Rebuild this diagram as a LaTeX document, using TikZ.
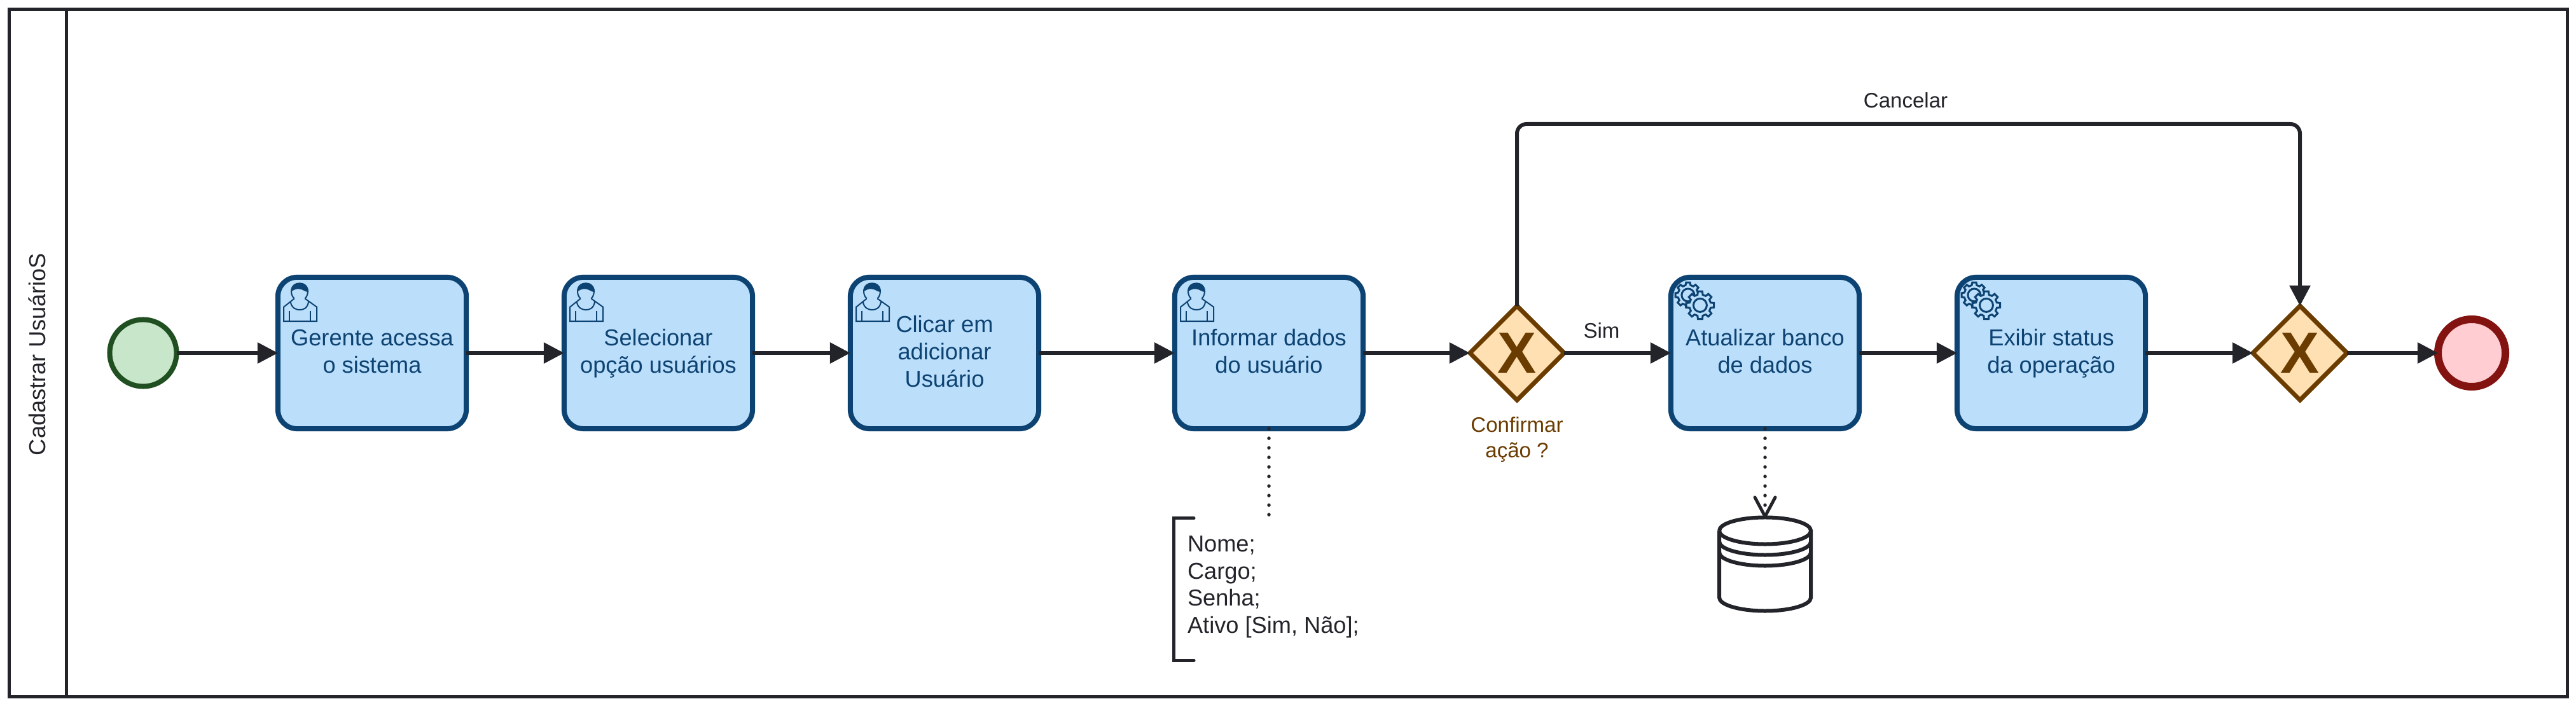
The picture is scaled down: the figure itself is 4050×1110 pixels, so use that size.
\documentclass[tikz,border=0pt]{standalone}
\usepackage{fontspec}
\setmainfont{Liberation Sans}
\usetikzlibrary{calc,arrows.meta,shapes.geometric}
\definecolor{linecolor}{HTML}{22242A}
\definecolor{taskfill}{HTML}{BBDEFB}
\definecolor{taskline}{HTML}{0D4372}
\definecolor{startfill}{HTML}{C8E6C9}
\definecolor{startline}{HTML}{205022}
\definecolor{endfill}{HTML}{FFCDD2}
\definecolor{endline}{HTML}{831311}
\definecolor{gatefill}{HTML}{FFE0B2}
\definecolor{gateline}{HTML}{6B3C00}
\tikzset{
	every node/.style={outer sep=0pt, inner sep=0pt},
	textnormal/.style={font=\fontsize{10.3}{12.2}\selectfont},
	textsmall/.style={font=\fontsize{9.4}{11.4}\selectfont},
	task/.style={textnormal, draw=taskline, fill=taskfill, text=taskline, line width=0.08cm,
		rounded corners=0.3cm, minimum width=2.96cm, minimum height=2.38cm, align=center, text depth=0.06cm},
	startevent/.style={circle, draw=startline, fill=startfill, line width=0.08cm, minimum size=1.05cm},
	endevent/.style={circle, draw=endline, fill=endfill, line width=0.12cm, minimum size=1.06cm},
	gateway/.style={diamond, aspect=1, draw=gateline, fill=gatefill, text=gateline, line width=0.07cm,
		minimum size=1.48cm, font=\fontsize{26}{26}\selectfont\bfseries},
	flow/.style={draw=linecolor, line width=0.06cm, -{Triangle[length=0.32cm,width=0.32cm]}},
	assoc/.style={draw=linecolor, line width=0.055cm, line cap=round, dash pattern=on 0pt off 0.15cm},
	pics/usericon/.style={code={
		\begin{scope}[shift={(-3.5,-3.5)}, draw=taskline, line width=0.02cm]
		\draw (29.3,37) .. controls (22,31) and (22,13) .. (37.7,13) .. controls (53,13) and (53,31) .. (46,37);
		\fill[taskline] (24,26) .. controls (24,17) and (30,13) .. (37.7,13) .. controls (46,13) and (51.5,18) .. (51.7,27) .. controls (45,26) and (42,22) .. (37,22) .. controls (32,21) and (28,24) .. (24,26) -- cycle;
		\draw (29.3,37) -- (12.7,50.3) -- (12.7,72.7) -- (64.7,72.7) -- (64.7,50.3) -- (46,37);
		\draw (23.3,42) .. controls (25,52) and (32,54.7) .. (37.7,54.7) .. controls (44,54.7) and (50,52) .. (51.7,42);
		\draw (21.7,57) -- (21.7,72.7);
		\draw (55,57) -- (55,72.7);
		\end{scope}
	}},
	pics/gearicon/.style={code={
		\begin{scope}[shift={(27,28)}, draw=taskline, line width=0.03cm]
		\draw (-14:16) \foreach \a in {0,45,...,315}{ -- (\a-14:16) -- (\a-9:20) -- (\a+9:20) -- (\a+14:16)} -- cycle;
		\draw (0,0) circle (0.1cm);
		\end{scope}
		\begin{scope}[shift={(46,44)}, draw=taskline, line width=0.03cm]
		\draw[fill=taskfill] (-14:17) \foreach \a in {0,45,...,315}{ -- (\a-14:17) -- (\a-9:22) -- (\a+9:22) -- (\a+14:17)} -- cycle;
		\draw (0,0) circle (0.105cm);
		\end{scope}
	}},
	pics/dbicon/.style={code={
		\begin{scope}[draw=linecolor, line width=0.06cm]
		\draw (-72,-53) arc[start angle=180, end angle=540, x radius=0.72cm, y radius=0.21cm];
		\draw (-72,-36) arc[start angle=180, end angle=360, x radius=0.72cm, y radius=0.21cm];
		\draw (-72,-19) arc[start angle=180, end angle=360, x radius=0.72cm, y radius=0.21cm];
		\draw (-72,-53) -- (-72,52) arc[start angle=180, end angle=360, x radius=0.72cm, y radius=0.21cm] -- (72,-53);
		\end{scope}
	}},
}
\begin{document}
\begin{tikzpicture}[x=0.01cm, y=-0.01cm]
\useasboundingbox (0,0) rectangle (4050,1110);
\node[draw=linecolor, line width=0.05cm, minimum width=40.19cm, minimum height=10.81cm] (lane) at (2025.5,555) {};
\draw[draw=linecolor, line width=0.05cm] ([xshift=0.9cm]lane.north west) -- ([xshift=0.9cm]lane.south west);
\node[textnormal, text=linecolor, rotate=90] (lanetitle) at (58,557) {Cadastrar UsuárioS};

\node[startevent] (inicio) at (225,555) {};
\node[task] (gerente) at (585,555) {Gerente acessa\\o sistema};
\node[task] (selecionar) at (1035,555) {Selecionar\\opção usuários};
\node[task] (clicar) at (1485,555) {Clicar em\\adicionar\\Usuário};
\node[task] (informar) at (1995,555) {Informar dados\\do usuário};
\node[gateway] (confirmar) at (2385,555) {X};
\node[task] (atualizar) at (2775,555) {Atualizar banco\\de dados};
\node[task] (exibir) at (3225,555) {Exibir status\\da operação};
\node[gateway] (juncao) at (3616,555) {X};
\node[endevent] (fim) at (3886,555) {};

\foreach \t in {gerente,selecionar,clicar,informar} \pic at (\t.north west) {usericon};
\foreach \t in {atualizar,exibir} \pic at (\t.north west) {gearicon};

\node[textsmall, text=gateline, align=center] (lblconfirmar) at (2385,691) {Confirmar\\ação ?};
\node[textsmall, text=linecolor] (lblsim) at (2518,520) {Sim};
\node[textsmall, text=linecolor] (lblcancelar) at (2996,158) {Cancelar};

\node[textnormal, text=linecolor, align=left, anchor=west, inner xsep=0.22cm, minimum height=2.23cm, text depth=0.15cm] (campos) at (1845,926.5) {Nome;\\Cargo;\\Senha;\\Ativo [Sim, Não];};
\draw[draw=linecolor, line width=0.05cm, line cap=round] ([xshift=0.32cm]campos.north west) -- (campos.north west) -- (campos.south west) -- ([xshift=0.32cm]campos.south west);
\coordinate (campostopo) at (1995,812);
\node[minimum width=1.5cm, minimum height=1.51cm] (banco) at (2775,887.5) {};
\pic at (banco.center) {dbicon};
\coordinate (cancelartopo) at (3000,195);

\draw[flow] (inicio) -- (gerente);
\draw[flow] (gerente) -- (selecionar);
\draw[flow] (selecionar) -- (clicar);
\draw[flow] (clicar) -- (informar);
\draw[flow] (informar) -- (confirmar);
\draw[flow] (confirmar) -- (atualizar);
\draw[flow] (atualizar) -- (exibir);
\draw[flow] (exibir) -- (juncao);
\draw[flow] (juncao) -- (fim);
\draw[flow, rounded corners=0.15cm] (confirmar.north) |- (cancelartopo) -| (juncao.north);
\draw[assoc] (informar.south) -- (campostopo);
\draw[assoc] (atualizar.south) -- (banco.north);
\draw[draw=linecolor, line width=0.05cm, line cap=round, line join=round] ($(banco.north)+(-16,-30)$) -- (banco.north) -- ($(banco.north)+(16,-30)$);
\end{tikzpicture}
\end{document}
